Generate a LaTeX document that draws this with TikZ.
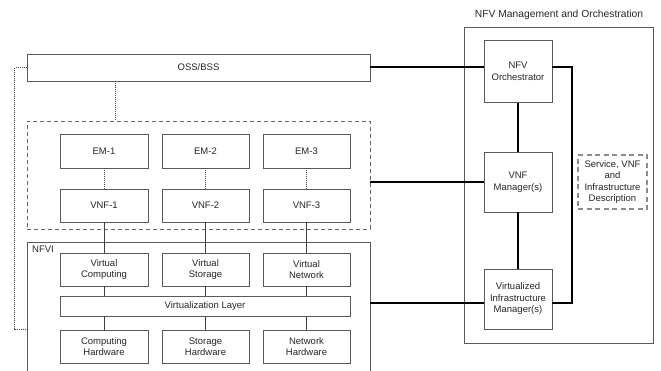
\documentclass[tikz,border=0pt]{standalone}
\usepackage{fontspec}
\setmainfont{Liberation Sans}
\begin{document}
\begin{tikzpicture}[x=1pt,y=-1pt,
  box/.style={draw=black!65,line width=0.8pt,fill=white,align=center,inner sep=1pt,
    text=black!85,font=\fontsize{9.5}{11.5}\selectfont},
  grp/.style={draw=black!60,line width=0.8pt,dash pattern=on 4pt off 3pt},
  thk/.style={line width=2pt,black},
  thin/.style={draw=black!75,line width=0.8pt},
  dots/.style={draw=black!75,line width=0.9pt,dash pattern=on 1pt off 1pt}]
\useasboundingbox (0,0) rectangle (661,370);
% left side
\node[box,minimum width=343,minimum height=27] (oss) at (198.5,67.5) {OSS/BSS};
\node[grp,minimum width=343,minimum height=108] (group) at (198.5,175) {};
\node[draw=black!65,line width=0.8pt,minimum width=343,minimum height=130] (nfvi) at (198.5,307) {};
\node[anchor=north west,inner sep=0pt,text=black!85,font=\fontsize{9.5}{11.5}\selectfont] (nfvilbl) at (32,246) {NFVI};
\foreach \i/\x/\w in {1/104/88,2/205.5/87,3/306.5/87}{
  \node[box,minimum width=\w,minimum height=34] (em\i) at (\x,151) {EM-\i};
  \node[box,minimum width=\w,minimum height=33] (vnf\i) at (\x,205.5) {VNF-\i};
}
\node[box,minimum width=88,minimum height=33] (vc) at (104,269.5) {Virtual\\Computing};
\node[box,minimum width=87,minimum height=33] (vs) at (205.5,269.5) {Virtual\\Storage};
\node[box,minimum width=87,minimum height=33] (vn) at (306.5,269.5) {Virtual\\Network};
\node[box,minimum width=290,minimum height=20] (vl) at (205,306) {Virtualization Layer};
\node[box,minimum width=88,minimum height=33] (hc) at (104,346.5) {Computing\\Hardware};
\node[box,minimum width=87,minimum height=33] (hs) at (205.5,346.5) {Storage\\Hardware};
\node[box,minimum width=87,minimum height=33] (hn) at (306.5,346.5) {Network\\Hardware};
% right side
\node[font=\fontsize{10.3}{12}\selectfont,text=black!85] (title) at (559,15) {NFV Management and Orchestration};
\node[draw=black!65,line width=0.8pt,minimum width=189,minimum height=316] (mano) at (558.5,185) {};
\node[box,minimum width=68,minimum height=62] (orch) at (518,71.5) {NFV\\Orchestrator};
\node[box,minimum width=68,minimum height=60] (vnfm) at (518,182) {VNF\\Manager(s)};
\node[box,minimum width=68,minimum height=60] (vim) at (518,299) {Virtualized\\Infrastructure\\Manager(s)};
\node[box,draw=black!45,line width=1.3pt,dash pattern=on 5pt off 3.5pt,minimum width=69,minimum height=54] (desc) at (612.5,182) {Service, VNF\\and\\Infrastructure\\Description};
\coordinate (l1) at (0,67);
\coordinate (l3) at (0,303);
\coordinate (rx) at (572,0);
% connectors
\draw[dots] (oss.south -| 115,0) -- (group.north -| 115,0);
\draw[dots] (oss.west) -- ++(-12,0) |- (nfvi.west |- hc.north);
\foreach \i in {1,2,3}{
  \draw[dots] (em\i.south) -- (vnf\i.north);
}
\draw[thin] (vnf1.south) -- (vc.north);
\draw[thin] (vnf2.south) -- (vs.north);
\draw[thin] (vnf3.south) -- (vn.north);
\draw[thin] (vc.south) -- (vc.south |- vl.north);
\draw[thin] (vs.south) -- (vs.south |- vl.north);
\draw[thin] (vn.south) -- (vn.south |- vl.north);
\draw[thin] (hc.north |- vl.south) -- (hc.north);
\draw[thin] (hs.north |- vl.south) -- (hs.north);
\draw[thin] (hn.north |- vl.south) -- (hn.north);
\draw[thk] (oss.east |- l1) -- (orch.west |- l1);
\draw[thk] (group.east |- vnfm.west) -- (vnfm.west);
\draw[thk] (nfvi.east |- l3) -- (vim.west |- l3);
\draw[thk] (orch.south) -- (vnfm.north);
\draw[thk] (vnfm.south) -- (vim.north);
\draw[thk] (orch.east |- l1) -| (rx |- l3) -- (vim.east |- l3);
\end{tikzpicture}
\end{document}
